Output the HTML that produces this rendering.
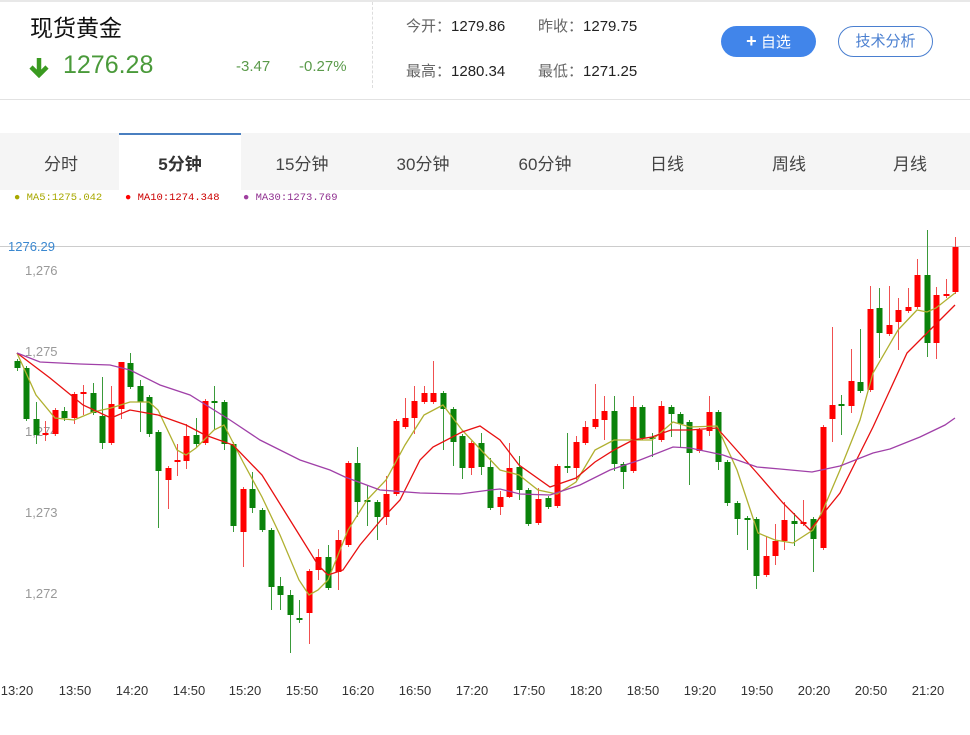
<!DOCTYPE html>
<html><head><meta charset="utf-8"><style>
*{margin:0;padding:0;box-sizing:border-box}
body{width:970px;height:735px;background:#fff;position:relative;overflow:hidden;font-family:"Liberation Sans","Noto Sans CJK SC",sans-serif}
.a{position:absolute;white-space:nowrap}
.tab{position:absolute;top:133px;height:57px;width:122px;text-align:center;line-height:63px;font-size:17px;color:#444}
</style></head><body>
<div class="a" style="left:0;top:0;width:970px;height:2px;background:#e8e8e8"></div>
<div class="a" style="left:30px;top:9px;font-size:23px;color:#111">现货黄金</div>
<div class="a" style="left:28px;top:52px;font-size:26px;color:#3a9a20;line-height:30px">
<svg width="22" height="22" viewBox="0 0 22 22" style="vertical-align:-2px"><path d="M11 2V18M3 11L11 19L19 11" stroke="#3a9a20" stroke-width="4.5" fill="none"/></svg></div>
<div class="a" style="left:63px;top:51px;font-size:25px;color:#4a9a3a">1276.28</div>
<div class="a" style="left:236px;top:58px;font-size:15px;color:#5a9a4a">-3.47</div>
<div class="a" style="left:299px;top:58px;font-size:15px;color:#5a9a4a">-0.27%</div>
<div class="a" style="left:372px;top:2px;height:86px;border-left:1px dashed #ddd"></div>
<div class="a" style="left:406px;top:15px;font-size:15px;color:#666">今开：<span style="color:#222">1279.86</span></div>
<div class="a" style="left:538px;top:15px;font-size:15px;color:#666">昨收：<span style="color:#222">1279.75</span></div>
<div class="a" style="left:406px;top:60px;font-size:15px;color:#666">最高：<span style="color:#222">1280.34</span></div>
<div class="a" style="left:538px;top:60px;font-size:15px;color:#666">最低：<span style="color:#222">1271.25</span></div>
<div class="a" style="left:721px;top:26px;width:95px;height:31px;border-radius:16px;background:#4185ea;color:#fff;font-size:15px;line-height:31px;text-align:center"><b style="font-size:18px">+</b> 自选</div>
<div class="a" style="left:838px;top:26px;width:95px;height:31px;border-radius:16px;border:1px solid #4a7fd0;color:#4a7fd0;font-size:15px;line-height:29px;text-align:center">技术分析</div>
<div class="a" style="left:0;top:99px;width:970px;height:1px;background:#e2e2e2"></div>
<div class="a" style="left:0;top:133px;width:970px;height:57px;background:#f5f5f5"></div>
<div class="tab" style="left:0">分时</div>
<div class="tab" style="left:119px;background:#fff;border-top:2px solid #4a7fc0;font-weight:bold;color:#333;line-height:59px">5分钟</div>
<div class="tab" style="left:241px">15分钟</div>
<div class="tab" style="left:362px">30分钟</div>
<div class="tab" style="left:484px">60分钟</div>
<div class="tab" style="left:606px">日线</div>
<div class="tab" style="left:728px">周线</div>
<div class="tab" style="left:849px">月线</div>
<div class="a" style="left:14px;top:192px;font-family:'Liberation Mono',monospace;font-size:10.5px;color:#a8a800"><span style="color:#a8a800">●</span> MA5:1275.042</div>
<div class="a" style="left:125px;top:192px;font-family:'Liberation Mono',monospace;font-size:10.5px;color:#c00"><span style="color:#f00">●</span> MA10:1274.348</div>
<div class="a" style="left:243px;top:192px;font-family:'Liberation Mono',monospace;font-size:10.5px;color:#903090"><span style="color:#a040a0">●</span> MA30:1273.769</div>
<svg class="a" style="left:0;top:0" width="970" height="735" font-family="Liberation Sans, sans-serif">
<line x1="0" y1="246.5" x2="970" y2="246.5" stroke="#ccc"/>
<text x="8" y="251" font-size="13" fill="#3b88d0">1276.29</text>
<g font-size="13" fill="#999">
<text x="25" y="275">1,276</text><text x="25" y="356">1,275</text><text x="25" y="436">1,274</text><text x="25" y="517">1,273</text><text x="25" y="598">1,272</text></g>
<g font-size="13" fill="#333" text-anchor="middle">
<text x="17" y="695">13:20</text><text x="75" y="695">13:50</text><text x="132" y="695">14:20</text><text x="189" y="695">14:50</text><text x="245" y="695">15:20</text><text x="302" y="695">15:50</text><text x="358" y="695">16:20</text><text x="415" y="695">16:50</text><text x="472" y="695">17:20</text><text x="529" y="695">17:50</text><text x="586" y="695">18:20</text><text x="643" y="695">18:50</text><text x="700" y="695">19:20</text><text x="757" y="695">19:50</text><text x="814" y="695">20:20</text><text x="871" y="695">20:50</text><text x="928" y="695">21:20</text></g>
<g id="c"></g>
<polyline fill="none" stroke="#b0b030" stroke-width="1.3" points="17,353 36,395 55,418 74,420 93,412 111,408 130,402 149,402 158,410 177,450 186,455 196,448 214,430 224,425 243,462 262,497 280,535 299,580 309,595 318,590 328,580 348,530 367,500 386,480 405,445 424,415 443,405 462,430 481,450 500,470 519,475 538,490 557,494 576,482 595,450 614,440 633,440 652,440 673,422 690,427 717,426 737,470 758,533 775,540 793,543 813,530 823,510 840,470 860,420 873,373 898,330 917,310 927,312 936,308 955,293"/>
<polyline fill="none" stroke="#e81010" stroke-width="1.3" points="17,353 50,378 83,405 111,418 130,410 158,415 186,425 205,435 233,445 262,475 290,520 318,565 328,575 343,570 360,545 381,520 400,500 420,460 433,447 462,432 480,426 500,440 519,465 550,487 576,478 595,462 614,450 633,440 652,437 671,430 690,430 717,428 757,473 783,503 810,530 840,493 873,427 907,353 930,330 945,315 955,305"/>
<polyline fill="none" stroke="#a040a8" stroke-width="1.3" points="17,353 40,362 80,364 110,365 130,370 160,385 190,395 230,420 260,440 300,460 330,470 345,477 380,490 420,493 460,494 490,490 500,489 520,494 550,495 580,485 610,470 640,460 673,447 690,448 723,455 757,467 780,469 812,472 840,466 873,453 890,449 920,437 945,425 955,418"/>
</svg>
<script>
var d="G17,361,368,359,371 G26,368,419,366,421 G36,419,435,402,444 R45,433,435,421,441 R55,410,434,408,436 G64,411,418,407,421 R74,394,418,392,424 R83,392,394,385,415 G93,393,413,383,415 G102,416,443,377,449 R111,404,443,386,445 R121,362,409,362,419 G130,363,387,353,389 G140,386,402,380,432 G149,397,434,395,437 G158,432,471,430,528 R168,468,480,466,509 R177,460,462,444,476 R186,436,461,424,469 G196,435,444,418,447 R205,401,443,399,445 G214,401,403,386,430 G224,402,444,400,450 G233,444,526,442,532 R243,489,532,487,567 G252,489,508,472,513 G262,510,530,508,532 G271,530,587,528,610 G280,586,595,577,610 G290,595,615,590,653 G299,618,620,600,623 R309,571,613,569,644 R318,557,570,549,580 G328,557,588,545,590 R338,540,572,530,590 R348,463,545,461,547 G357,463,502,447,517 G367,500,502,486,526 G377,502,517,500,540 R386,494,517,476,525 R396,421,494,419,496 R405,418,427,398,429 R414,401,418,386,434 R424,393,402,386,404 R433,393,402,361,404 G443,393,409,391,450 G453,409,442,407,466 G462,436,468,434,479 R471,443,468,441,475 G481,443,467,433,475 G490,467,508,458,510 R500,497,507,491,515 R509,468,497,443,498 G519,467,490,456,500 G528,490,524,488,526 R538,499,523,488,525 G548,498,507,496,509 R557,466,506,464,508 G567,466,468,433,473 R576,442,468,436,480 R585,427,443,421,445 R595,419,427,384,429 R604,411,420,396,440 G614,411,464,396,471 G623,464,472,462,489 R633,407,471,396,473 G642,407,438,405,440 G652,437,439,433,457 R661,406,440,401,442 G671,407,414,405,437 G680,414,424,412,447 G689,422,453,420,485 R699,430,451,428,453 R709,412,431,396,436 G718,412,462,410,470 G727,462,503,460,506 G737,503,519,501,535 G747,518,520,516,550 G756,519,576,517,589 R766,556,575,537,577 R775,541,556,524,565 R784,520,541,502,550 G794,521,524,513,546 R803,522,524,500,526 G813,519,539,517,572 R823,427,548,425,550 R832,405,419,327,442 G841,404,406,395,435 R851,381,406,349,413 G860,382,391,329,393 R870,309,390,286,392 G879,308,333,288,358 R889,325,334,286,336 R898,310,322,298,350 R908,307,311,288,313 R917,275,307,259,309 G927,275,343,230,357 R936,295,343,287,359 R946,294,296,279,298 R955,247,292,237,294".split(" ");
var s="";d.forEach(function(e){var c=e[0]=="G",v=e.slice(1).split(",").map(Number);var x=v[0],t=v[1],b=v[2];
s+='<line x1="'+(x+.5)+'" x2="'+(x+.5)+'" y1="'+v[3]+'" y2="'+v[4]+'" stroke="'+(c?"#3a9a3a":"#f05050")+'"/>';
s+='<rect x="'+(x-2.5)+'" y="'+t+'" width="6" height="'+Math.max(2,b-t)+'" fill="'+(c?"#0a820a":"#f00")+'"/>';});
document.getElementById("c").innerHTML=s;
</script>
</body></html>
